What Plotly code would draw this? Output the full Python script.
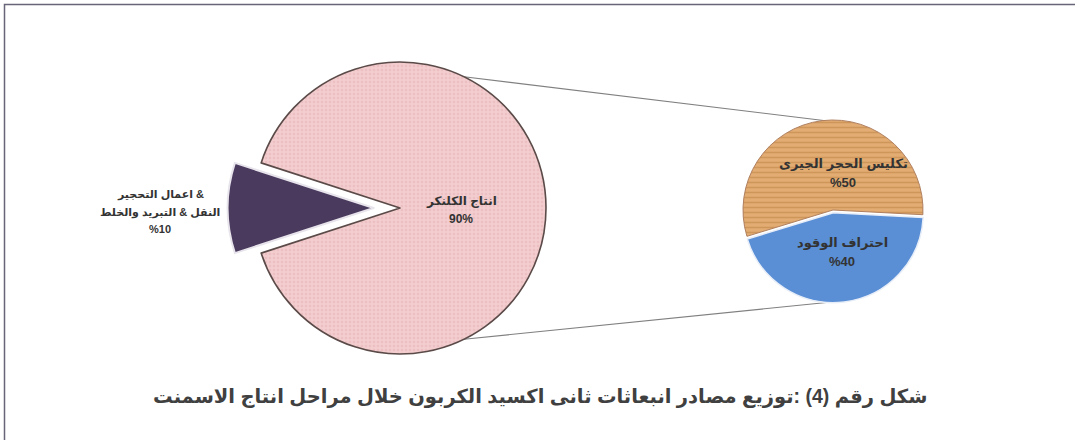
import math
import plotly.graph_objects as go

# ---- data ----
main_label_lines = [["اعمال التحجير &", "النقل & التبريد والخلط"], ["انتاج الكلنكر"]]
main_values = [10, 90]
main_pct_text = ["%10", "90%"]

sub_label_lines = [["احتراف الوقود"], ["تكليس الحجر الجيرى"]]
sub_values = [40, 50]
sub_pct_text = ["%40", "%50"]

caption = "شكل رقم (4) :توزيع مصادر انبعاثات ثانى اكسيد الكربون خلال مراحل انتاج الاسمنت"

# ---- layout geometry (pixels) ----
W, H = 1075, 440
big_c = (400, 208)
big_r = 146
big_pull = [0.18, 0]
small_c = (833, 210)
small_r = 90
small_pull = [0.03, 0]


def domain(center, r, pull):
    half = r * (1 + max(pull))
    cx, cy = center
    return dict(x=[(cx - half) / W, (cx + half) / W],
                y=[(H - cy - half) / H, (H - cy + half) / H])


fig = go.Figure()

fig.add_trace(go.Pie(
    values=main_values, labels=["a", "b"], sort=False,
    direction="clockwise", rotation=252,
    pull=big_pull, textinfo="none", hoverinfo="skip",
    domain=domain(big_c, big_r, big_pull),
    marker=dict(colors=["#4a3a5e", "#f2c9cb"],
                line=dict(color=["#e8e4ec", "#5a4a48"], width=[2, 1.6]),
                pattern=dict(shape=["", "."], fgcolor=["#4a3a5e", "#ecbfc2"],
                             bgcolor=["#4a3a5e", "#f3cdcf"],
                             size=[6, 4], solidity=[0.2, 0.35])),
    showlegend=False,
))

fig.add_trace(go.Pie(
    values=sub_values, labels=["c", "d"], sort=False,
    direction="clockwise", rotation=93,
    pull=small_pull, textinfo="none", hoverinfo="skip",
    domain=domain(small_c, small_r, small_pull),
    marker=dict(colors=["#5a8fd6", "#dea468"],
                line=dict(color=["#e8eef8", "#b08060"], width=[1.5, 1]),
                pattern=dict(shape=["", "-"], fgcolor=["#5a8fd6", "#cf9659"],
                             bgcolor=["#5a8fd6", "#e2ac72"],
                             size=[6, 5], solidity=[0.2, 0.3])),
    showlegend=False,
))


# connector lines computed from pie geometry
def pt(center, r, deg):
    return (center[0] + r * math.cos(math.radians(deg)),
            center[1] - r * math.sin(math.radians(deg)))


top_a = pt(big_c, big_r, 64)
top_b = pt(small_c, small_r, 96)
bot_a = pt(big_c, big_r, -64)
bot_b = pt(small_c, small_r * (1 + small_pull[0]), -94)
for a, b in [(top_a, top_b), (bot_a, bot_b)]:
    fig.add_shape(type="line", xref="paper", yref="paper",
                  x0=a[0] / W, y0=1 - a[1] / H, x1=b[0] / W, y1=1 - b[1] / H,
                  line=dict(color="#808080", width=1.2), layer="below")

# frame
fig.add_shape(type="rect", xref="paper", yref="paper",
              x0=4.5 / W, y0=-0.1, x1=1.1, y1=1 - 4.5 / H,
              line=dict(color="#6a6478", width=1.5))

FONT = "Arial, DejaVu Sans"


def add_lines(x, y_center, lines, size, lh):
    n = len(lines)
    for i, ln in enumerate(lines):
        y = y_center + (i - (n - 1) / 2) * lh
        fig.add_annotation(x=x / W, y=1 - y / H, xref="paper", yref="paper",
                           text="<b>" + ln + "</b>", showarrow=False,
                           font=dict(family=FONT, size=size, color="#333333"),
                           xanchor="center", yanchor="middle")


add_lines(160, 212, main_label_lines[0] + [main_pct_text[0]], 11, 17)
add_lines(461, 210, main_label_lines[1] + [main_pct_text[1]], 12, 19)
add_lines(843, 173, sub_label_lines[1] + [sub_pct_text[1]], 13, 19)
add_lines(842, 252, sub_label_lines[0] + [sub_pct_text[0]], 13, 19)

fig.add_annotation(x=540 / W, y=1 - 410 / H, xref="paper", yref="paper",
                   text="<b>" + caption + "</b>", showarrow=False,
                   font=dict(family=FONT, size=19.5, color="#404040"))

fig.update_layout(width=W, height=H, margin=dict(l=0, r=0, t=0, b=0),
                  paper_bgcolor="white", plot_bgcolor="white")

fig.write_html("out.html")
